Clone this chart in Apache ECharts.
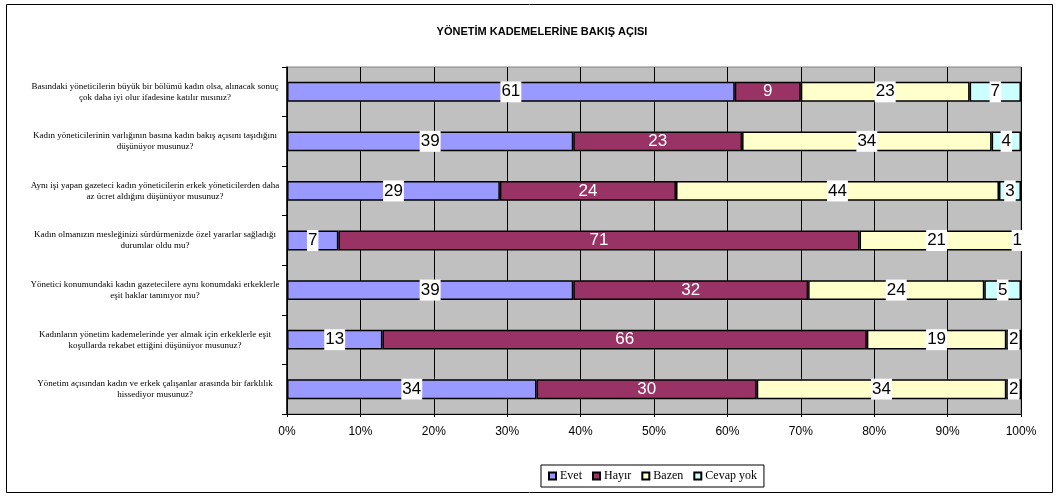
<!DOCTYPE html>
<html>
<head>
<meta charset="utf-8">
<script src="https://cdn.jsdelivr.net/npm/echarts@6/dist/echarts.min.js"></script>
<style>
  html, body { margin: 0; padding: 0; background: #fff; }
  #chart { width: 1059px; height: 496px; }
</style>
</head>
<body>
<div id="chart"></div>
<script>
// questions, top to bottom
const questions = [
  "Basındaki yöneticilerin büyük bir bölümü kadın olsa, alınacak sonuç\nçok daha iyi olur ifadesine katılır mısınız?",
  "Kadın yöneticilerinin varlığının basına kadın bakış açısını taşıdığını\ndüşünüyor musunuz?",
  "Aynı işi yapan gazeteci kadın yöneticilerin erkek yöneticilerden daha\naz ücret aldığını düşünüyor musunuz?",
  "Kadın olmanızın mesleğinizi sürdürmenizde özel yararlar sağladığı\ndurumlar oldu mu?",
  "Yönetici konumundaki kadın gazetecilere aynı konumdaki erkeklerle\neşit haklar tanınıyor mu?",
  "Kadınların yönetim kademelerinde yer almak için erkeklerle eşit\nkoşullarda rekabet ettiğini düşünüyor musunuz?",
  "Yönetim açısından kadın ve erkek çalışanlar arasında bir farklılık\nhissediyor musunuz?"
];
const evet = [61, 39, 29, 7, 39, 13, 34];
const hayir = [9, 23, 24, 71, 32, 66, 30];
const bazen = [23, 34, 44, 21, 24, 19, 34];
const cevapYok = [7, 4, 3, 1, 5, 2, 2];
const xTicks = [0, 10, 20, 30, 40, 50, 60, 70, 80, 90, 100];

const chart = echarts.init(document.getElementById("chart"));

const boxLabel = {
  show: true,
  position: "inside",
  color: "#000",
  backgroundColor: "#fff",
  fontFamily: "Liberation Sans",
  fontSize: 17,
  padding: [3, 1, 1, 1]
};

function makeSeries(name, data, color, label) {
  return {
    name: name,
    type: "bar",
    stack: "total",
    data: data,
    barWidth: "40%",
    itemStyle: { color: color, borderColor: "#000", borderWidth: 1.5 },
    label: label
  };
}

chart.setOption({
  animation: false,
  title: {
    text: "YÖNETİM KADEMELERİNE BAKIŞ AÇISI",
    left: 537,
    textAlign: "center",
    top: 21,
    textStyle: { fontFamily: "Liberation Sans", fontSize: 11, fontWeight: "bold", color: "#000" }
  },
  graphic: [{
    type: "rect",
    shape: { x: 6.5, y: 4.5, width: 1046, height: 488 },
    style: { fill: "none", stroke: "#000", lineWidth: 1 }
  }],
  legend: {
    left: 541,
    top: 465,
    data: ["Evet", "Hayır", "Bazen", "Cevap yok"],
    icon: "rect",
    itemWidth: 7,
    itemHeight: 7,
    itemGap: 10,
    padding: [5, 7],
    borderColor: "#000",
    borderWidth: 1,
    textStyle: { fontFamily: "Liberation Serif", fontSize: 12, color: "#000", padding: [0, 0, 0, -1] },
    itemStyle: { borderColor: "#000", borderWidth: 2 }
  },
  grid: {
    left: 287,
    top: 67,
    width: 734,
    height: 347,
    show: true,
    backgroundColor: "#c0c0c0",
    borderColor: "#808080",
    borderWidth: 1
  },
  xAxis: {
    type: "value",
    min: 0,
    max: 100,
    interval: 10,
    axisLine: { show: true, lineStyle: { color: "#000", width: 1 } },
    axisTick: { show: true, length: 3, lineStyle: { color: "#000" } },
    splitLine: { show: true, lineStyle: { color: "#000", width: 1 } },
    axisLabel: {
      margin: 12,
      fontFamily: "Liberation Sans",
      fontSize: 12,
      color: "#000",
      formatter: function (v) { return xTicks.indexOf(v) >= 0 ? v + "%" : ""; }
    }
  },
  yAxis: {
    type: "category",
    inverse: true,
    data: questions,
    axisLine: { show: true, lineStyle: { color: "#000", width: 1.5 } },
    axisTick: { show: true, length: 5, lineStyle: { color: "#000" } },
    axisLabel: {
      align: "center",
      margin: 132,
      fontFamily: "Liberation Serif",
      fontSize: 9,
      lineHeight: 11,
      color: "#000"
    }
  },
  series: [
    makeSeries("Evet", evet, "#9999ff", boxLabel),
    makeSeries("Hayır", hayir, "#993366", {
      show: true, position: "inside", color: "#fff",
      fontFamily: "Liberation Sans", fontSize: 17
    }),
    makeSeries("Bazen", bazen, "#ffffcc", boxLabel),
    makeSeries("Cevap yok", cevapYok, "#ccffff", boxLabel)
  ]
});
</script>
</body>
</html>
